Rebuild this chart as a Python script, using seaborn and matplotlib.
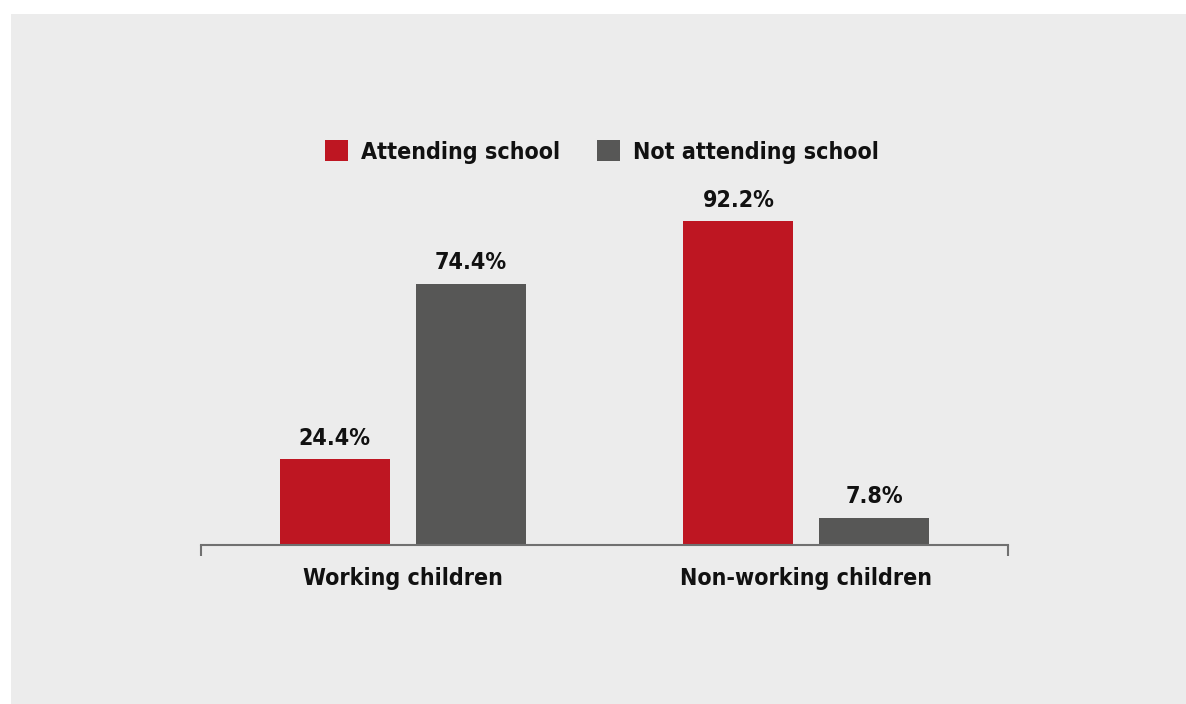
import matplotlib
matplotlib.use("Agg")
import matplotlib.pyplot as plt
import pandas as pd
import seaborn as sns
from matplotlib.patches import Rectangle

groups = ["Working children", "Non-working children"]
statuses = ["Attending school", "Not attending school"]
attending = [24.4, 92.2]
not_attending = [74.4, 7.8]
colors = ["#be1622", "#575756"]

df = pd.DataFrame({
    "group": groups * 2,
    "status": [statuses[0]] * 2 + [statuses[1]] * 2,
    "value": attending + not_attending,
})

sns.set_style("white")
plt.rcParams["font.family"] = ["DejaVu Sans"]
plt.rcParams["font.stretch"] = "condensed"
FS = 16.7
TXT = "#111111"

fig = plt.figure(figsize=(11.86, 7.04), dpi=100)
fig.patch.set_facecolor("white")
fig.patches.append(Rectangle((11 / 1186, 0), 1 - 11 / 1186, 690 / 704,
                             transform=fig.transFigure, facecolor="#ececec",
                             edgecolor="none", zorder=-1))

ax = fig.add_axes([201 / 1186, 159 / 704, 807 / 1186, 351 / 704])
ax.set_facecolor("none")
sns.barplot(data=df, x="group", y="value", hue="status", order=groups,
            hue_order=statuses, palette=colors, width=0.673, gap=0.19,
            saturation=1, linewidth=0, ax=ax)

for c in ax.containers:
    ax.bar_label(c, labels=[f"{v:.1f}%" for v in c.datavalues], padding=7,
                 fontsize=FS, fontweight="bold", color=TXT)

ax.set_xlim(-0.5, 1.5)
ax.set_ylim(0, 100)
ax.set_xlabel("")
ax.set_ylabel("")
ax.set_yticks([])
for s in ["top", "right", "left"]:
    ax.spines[s].set_visible(False)
ax.spines["bottom"].set_color("#707070")
ax.spines["bottom"].set_linewidth(1.5)
ax.tick_params(axis="x", which="major", bottom=False, length=0, pad=16, labelsize=FS)
for lbl in ax.get_xticklabels():
    lbl.set_fontweight("bold")
    lbl.set_color(TXT)
ax.set_xticks([-0.5, 1.5], minor=True)
ax.tick_params(axis="x", which="minor", bottom=True, direction="out", length=8,
               width=1.5, color="#707070")

ax.legend_.remove()
handles, labels = ax.get_legend_handles_labels()
leg = fig.legend(handles, labels, loc="center", bbox_to_anchor=(602 / 1186, 1 - 152 / 704),
                 ncol=2, frameon=False, handlelength=1.0, handleheight=1.0,
                 handletextpad=0.56, columnspacing=1.6,
                 prop={"size": FS, "weight": "bold"})
for t in leg.get_texts():
    t.set_color(TXT)

fig.savefig("out.png", dpi=100)
